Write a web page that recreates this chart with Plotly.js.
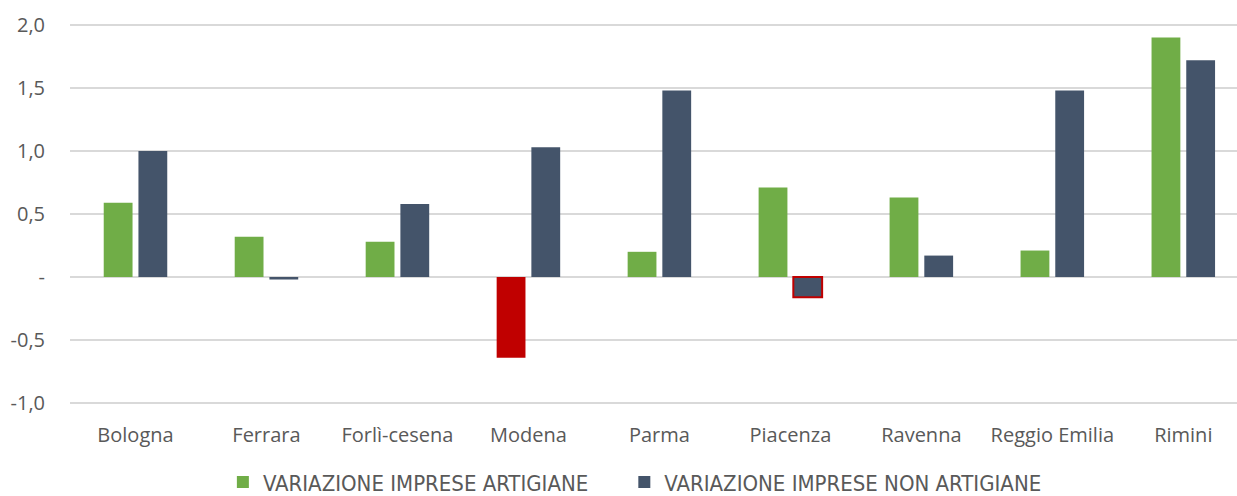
<!DOCTYPE html>
<html>
<head>
<meta charset="utf-8">
<script src="https://cdn.plot.ly/plotly-3.0.1.min.js"></script>
<style>
  html, body { margin: 0; padding: 0; background: #fff; }
  #chart { width: 1237px; height: 496px; }
</style>
</head>
<body>
<div id="chart"></div>
<script>
const province = ["Bologna", "Ferrara", "Forlì-cesena", "Modena", "Parma", "Piacenza", "Ravenna", "Reggio Emilia", "Rimini"];
const artigiane = [0.59, 0.32, 0.28, -0.64, 0.20, 0.71, 0.63, 0.21, 1.90];
const nonArtigiane = [1.00, -0.02, 0.58, 1.03, 1.48, -0.16, 0.17, 1.48, 1.72];
const yTickVals = [-1, -0.5, 0, 0.5, 1, 1.5, 2];
const yTickText = ["-1,0", "-0,5", "-", "0,5", "1,0", "1,5", "2,0"];

const GREEN = "#70ad47";
const NAVY = "#44546a";
const RED = "#c00000";

// Excel-style "invert if negative": Modena filled red, Piacenza outlined red
const greenFill = artigiane.map(v => (v < -0.1 ? RED : GREEN));
const navyLine = nonArtigiane.map(v => (v < -0.1 ? RED : NAVY));
const navyLineW = nonArtigiane.map(v => (v < -0.1 ? 2 : 0));

const labelFont = { family: "Open Sans, sans-serif", size: 20, color: "#595959" };
const legendFont = { family: "DejaVu Sans Condensed, Open Sans, sans-serif", size: 22, color: "#595959" };

Plotly.newPlot(
  "chart",
  [
    {
      x: province,
      y: artigiane,
      type: "bar",
      name: "VARIAZIONE IMPRESE ARTIGIANE",
      marker: { color: greenFill, line: { width: 0 } },
      legend: "legend",
    },
    {
      x: province,
      y: nonArtigiane,
      type: "bar",
      name: "VARIAZIONE IMPRESE NON ARTIGIANE",
      marker: { color: NAVY, line: { color: navyLine, width: navyLineW } },
      legend: "legend2",
    },
  ],
  {
    width: 1237,
    height: 496,
    margin: { t: 23, l: 70, r: 0, b: 91, autoexpand: false },
    paper_bgcolor: "#ffffff",
    plot_bgcolor: "#ffffff",
    barmode: "group",
    bargap: 0.47,
    bargroupgap: 0.17,
    showlegend: true,

    xaxis: {
      range: [-0.5, 8.41],
      showgrid: false,
      zeroline: false,
      showline: false,
      ticks: "outside",
      ticklen: 12,
      tickcolor: "rgba(0,0,0,0)",
      tickfont: labelFont,
    },

    yaxis: {
      range: [-1.016, 2.016],
      tickvals: yTickVals,
      ticktext: yTickText,
      showgrid: true,
      gridcolor: "#d9d9d9",
      gridwidth: 1.3,
      zeroline: false,
      showline: false,
      ticks: "outside",
      ticklen: 20,
      tickcolor: "rgba(0,0,0,0)",
      tickfont: labelFont,
    },

    legend: {
      orientation: "h",
      x: 0.131,
      xanchor: "left",
      y: -0.147,
      yanchor: "top",
      font: legendFont,
    },

    legend2: {
      orientation: "h",
      x: 0.475,
      xanchor: "left",
      y: -0.147,
      yanchor: "top",
      font: legendFont,
    },
  },
  { displayModeBar: false, staticPlot: true }
);
</script>
</body>
</html>
